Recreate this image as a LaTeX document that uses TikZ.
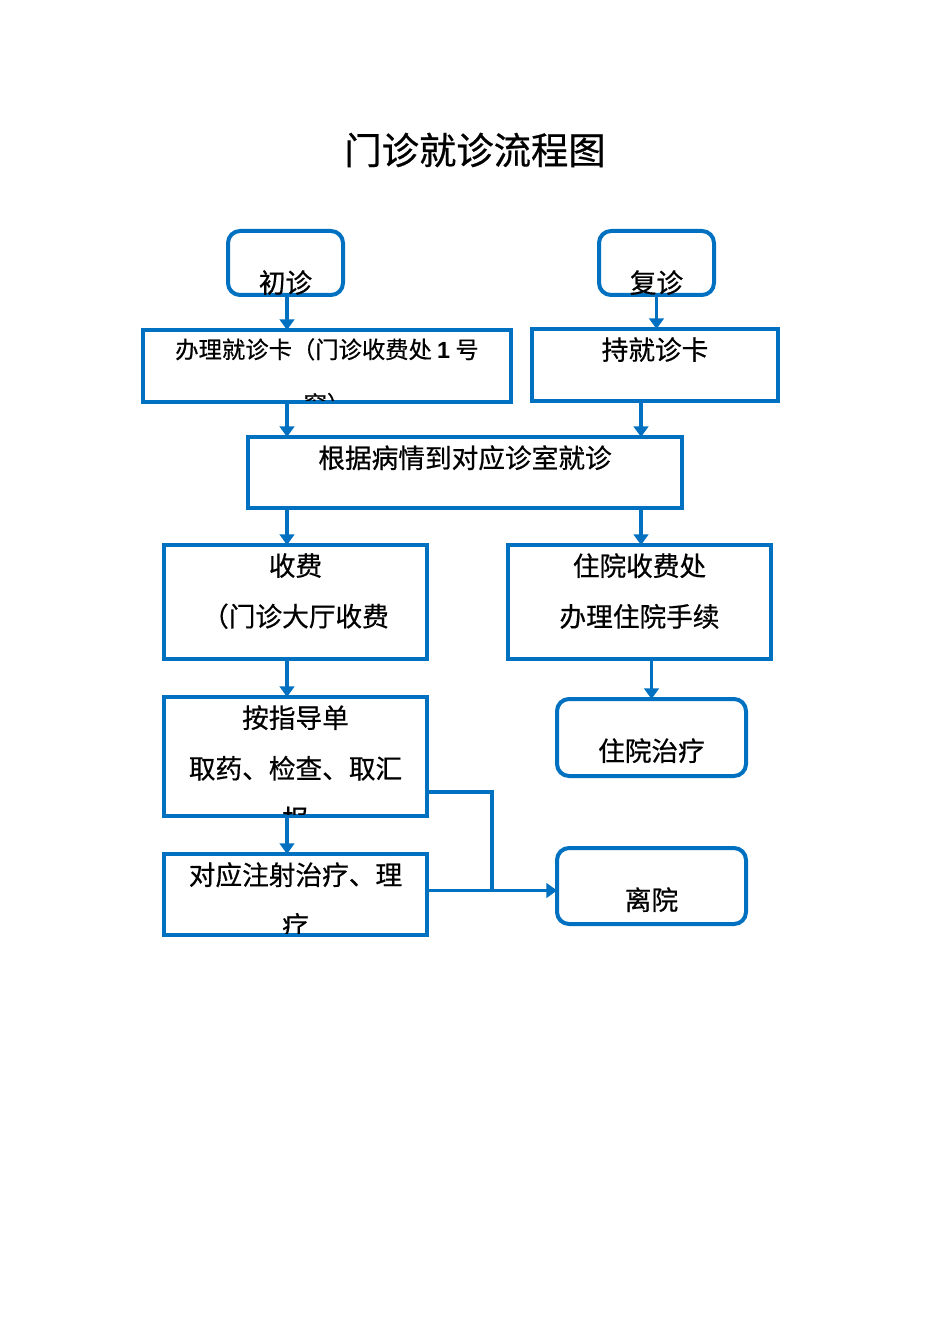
\documentclass[tikz,border=0pt]{standalone}
\usepackage{fontspec}
\setmainfont{Noto Sans CJK SC}[FakeBold=0.6]
\newfontfamily\numfont{Liberation Sans}
\usepackage{xcolor}
\usetikzlibrary{positioning,calc,arrows.meta}
\definecolor{flowblue}{RGB}{0,112,192}

\begin{document}
\begin{tikzpicture}[x=0.75pt, y=-0.75pt,
    box/.style={draw=flowblue, line width=3pt, inner sep=0pt, outer sep=0pt},
    rbox/.style={box, rounded corners=9pt},
    txt/.style={anchor=north, inner sep=0pt, align=center, font=\fontsize{20pt}{38pt}\selectfont},
    flow/.style={draw=flowblue, line width=2.8pt},
    flowarrow/.style={flow, -{Triangle[width=11pt,length=8pt]}}]
    % Page
    \useasboundingbox (0,0) rectangle (950,1344);
    \coordinate (lcol) at (287,0);
    \coordinate (rcol) at (641,0);

    % Title
    \node[font=\fontsize{28pt}{34pt}\selectfont] (title) at (475,150) {门诊就诊流程图};

    % Start
    \node[rbox, minimum width=86.25pt, minimum height=48pt] (first) at (285.5,263) {};
    \node[txt] (firsttxt) at ([yshift=-29.25pt]first.north) {初诊};
    \node[rbox, minimum width=86.25pt, minimum height=48pt] (revisit) at (656.5,263) {};
    \node[txt] (revisittxt) at ([yshift=-29.25pt]revisit.north) {复诊};

    % Card
    \node[box, minimum width=276pt, minimum height=54pt] (card) at (327,366) {};
    \begin{scope}
        \clip ([shift={(2,2)}]card.north west) rectangle ([shift={(-2,-2)}]card.south east);
        \node[txt, font=\fontsize{17.5pt}{41pt}\selectfont] (cardtxt) at ([yshift=-6pt]card.north)
            {办理就诊卡（门诊收费处 {\numfont\bfseries 1} 号\\窗）};
    \end{scope}
    \node[box, minimum width=184.5pt, minimum height=54pt] (holdcard) at (655,365) {};
    \node[txt] (holdcardtxt) at ([yshift=-6pt]holdcard.north) {持就诊卡};

    % Clinic
    \node[box, minimum width=325.5pt, minimum height=53.25pt] (clinic) at (465,472.5) {};
    \node[txt] (clinictxt) at ([yshift=-6pt]clinic.north) {根据病情到对应诊室就诊};

    % Payment
    \node[box, minimum width=197.25pt, minimum height=85.5pt] (pay) at (295.5,602) {};
    \node[txt] (paytxt) at ([yshift=-6pt]pay.north) {收费\\（门诊大厅收费};
    \node[box, minimum width=197.25pt, minimum height=85.5pt] (inpay) at (639.5,602) {};
    \node[txt] (inpaytxt) at ([yshift=-6pt]inpay.north) {住院收费处\\办理住院手续};

    % Guide and treatment
    \node[box, minimum width=197.25pt, minimum height=89.25pt] (guide) at (295.5,756.5) {};
    \begin{scope}
        \clip ([shift={(2,2)}]guide.north west) rectangle ([shift={(-2,-2)}]guide.south east);
        \node[txt] (guidetxt) at ([yshift=-6pt]guide.north) {按指导单\\取药、检查、取汇\\报};
    \end{scope}
    \node[box, minimum width=197.25pt, minimum height=60.75pt] (inject) at (295.5,894.5) {};
    \begin{scope}
        \clip ([shift={(2,2)}]inject.north west) rectangle ([shift={(-2,-2)}]inject.south east);
        \node[txt] (injecttxt) at ([yshift=-6pt]inject.north) {对应注射治疗、理\\疗};
    \end{scope}

    % End
    \node[rbox, minimum width=141.75pt, minimum height=57.75pt] (ward) at (651.5,737.5) {};
    \node[txt] (wardtxt) at ([yshift=-29.25pt]ward.north) {住院治疗};
    \node[rbox, minimum width=141.75pt, minimum height=57pt] (leave) at (651.5,886) {};
    \node[txt] (leavetxt) at ([yshift=-29.25pt]leave.north) {离院};

    % Arrows
    \draw[flowarrow] (first.south -| lcol) -- (card.north -| lcol);
    \draw[flowarrow] (revisit.south) -- (revisit.south |- holdcard.north);
    \draw[flowarrow] (card.south -| lcol) -- (clinic.north -| lcol);
    \draw[flowarrow] (holdcard.south -| rcol) -- (clinic.north -| rcol);
    \draw[flowarrow] (clinic.south -| lcol) -- (pay.north -| lcol);
    \draw[flowarrow] (clinic.south -| rcol) -- (inpay.north -| rcol);
    \draw[flowarrow] (pay.south -| lcol) -- (guide.north -| lcol);
    \draw[flowarrow] (inpay.south -| ward.north) -- (ward.north);
    \draw[flowarrow] (guide.south -| lcol) -- (inject.north -| lcol);
    \draw[flowarrow] ([yshift=3pt]inject.east) -- ([yshift=3pt]inject.east -| leave.west);
    \draw[flow] ([yshift=-26.6pt]guide.east) -| ($([yshift=3pt]inject.east)!0.5!([yshift=3pt]inject.east -| leave.west)$);

\end{tikzpicture}
\end{document}
